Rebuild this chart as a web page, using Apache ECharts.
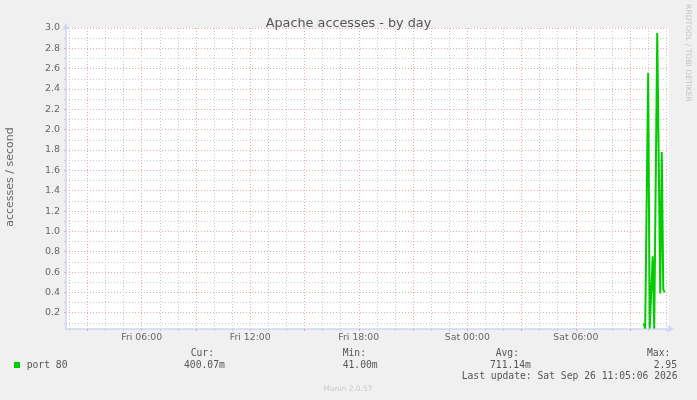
<!DOCTYPE html>
<html>
<head>
<meta charset="utf-8">
<script src="https://cdn.jsdelivr.net/npm/echarts@6/dist/echarts.min.js"></script>
<style>
html,body{margin:0;padding:0;background:#f0f0f0;}
#chart{width:697px;height:400px;}
</style>
</head>
<body>
<div id="chart"></div>
<script>
// ---- data (minutes since Fri 00:00) ----
const rangeStartMin = 109;   // Fri 01:49
const rangeEndMin = 2109;    // Sat 11:09
const pointMinutes = [2025, 2030, 2035, 2040, 2045, 2050, 2055, 2060, 2065, 2070, 2080, 2085, 2090, 2095];
const port80Values = [0.095, 0.045, 0.05, 2.56, 0.045, 0.045, 0.755, 0.045, 0.05, 2.95, 0.39, 1.78, 0.43, 0.40];

const xLabelMinutes = [360, 720, 1080, 1440, 1800];
const xLabelTexts = ['Fri 06:00', 'Fri 12:00', 'Fri 18:00', 'Sat 00:00', 'Sat 06:00'];
const xMajorMinutes = [180, 360, 540, 720, 900, 1080, 1260, 1440, 1620, 1800, 1980];
const xMinorMinutes = [120, 240, 300, 420, 480, 600, 660, 780, 840, 960, 1020, 1140, 1200, 1320, 1380, 1500, 1560, 1680, 1740, 1860, 1920, 2040, 2100];

const yMin = 0.04, yMax = 3.0;
const yMajorTicks = [0.2, 0.4, 0.6, 0.8, 1.0, 1.2, 1.4, 1.6, 1.8, 2.0, 2.2, 2.4, 2.6, 2.8, 3.0];
const yMinorTicks = [0.1, 0.3, 0.5, 0.7, 0.9, 1.1, 1.3, 1.5, 1.7, 1.9, 2.1, 2.3, 2.5, 2.7, 2.9];

const legendName = 'port 80';
const statHeaders = ['Cur:', 'Min:', 'Avg:', 'Max:'];
const statValues = ['400.07m', '41.00m', '711.14m', '2.95'];
const lastUpdate = 'Last update: Sat Sep 26 11:05:06 2026';

const seriesData = pointMinutes.map((m, i) => [m, port80Values[i]]);

const chart = echarts.init(document.getElementById('chart'), null, {renderer: 'canvas'});

const axisColor = '#cfd6f8';
const redGrid = '#f2a6a6';
const grayGrid = '#c8c8c8';
const fontColor = '#666666';
const mono = '"DejaVu Sans Mono", monospace';

const headerX = [190.7, 342.7, 495.7, 647];
const valueX = [184, 342.7, 490, 653.7];

const graphics = [
  {type: 'text', x: 10, y: 177, rotation: Math.PI / 2,
   style: {text: 'accesses / second', fill: fontColor, font: '11px "DejaVu Sans"', align: 'center', verticalAlign: 'middle'}},
  {type: 'text', x: 688, y: 53, rotation: -Math.PI / 2,
   style: {text: 'RRDTOOL / TOBI OETIKER', fill: '#c4c4c4', font: '7.6px "DejaVu Sans"', align: 'center', verticalAlign: 'middle'}},
  {type: 'rect', shape: {x: 14, y: 362, width: 6, height: 6}, style: {fill: '#00cc00'}},
  {type: 'text', x: 26.7, y: 365, style: {text: legendName, fill: '#555', font: '9.7px ' + mono, verticalAlign: 'middle'}},
  {type: 'text', x: 461.7, y: 376, style: {text: lastUpdate, fill: '#555', font: '9.7px ' + mono, verticalAlign: 'middle'}},
  {type: 'text', x: 348, y: 389.5, style: {text: 'Munin 2.0.57', fill: '#c8c8c8', font: '7.5px "DejaVu Sans"', align: 'center', verticalAlign: 'middle'}}
];
statHeaders.forEach((h, i) => {
  graphics.push({type: 'text', x: headerX[i], y: 353, style: {text: h, fill: '#555', font: '9.7px ' + mono, verticalAlign: 'middle'}});
  graphics.push({type: 'text', x: valueX[i], y: 365, style: {text: statValues[i], fill: '#555', font: '9.7px ' + mono, verticalAlign: 'middle'}});
});

const option = {
  backgroundColor: '#f0f0f0',
  animation: false,
  title: {
    text: 'Apache accesses - by day', left: 'center', top: 12,
    textStyle: {color: '#555', fontFamily: 'DejaVu Sans', fontSize: 12.8, fontWeight: 'normal'}
  },
  grid: {left: 66, right: 28, top: 28, bottom: 71, show: true, backgroundColor: '#ffffff', borderWidth: 0, containLabel: false},
  xAxis: [
    {
      type: 'value', min: rangeStartMin, max: rangeEndMin, position: 'bottom', z: 5,
      axisLine: {show: true, lineStyle: {color: axisColor, width: 1.5}, symbol: ['none', 'arrow'], symbolSize: [6, 7], symbolOffset: [0, 5]},
      axisTick: {show: true, length: 2, customValues: xMajorMinutes, lineStyle: {color: redGrid}},
      axisLabel: {show: true, customValues: xLabelMinutes, margin: 4, color: fontColor, fontFamily: 'DejaVu Sans', fontSize: 9.3,
        formatter: v => xLabelTexts[xLabelMinutes.indexOf(v)] || ''},
      splitLine: {show: true, lineStyle: {color: redGrid, type: [1, 2], width: 1}}
    },
    {
      type: 'value', min: rangeStartMin, max: rangeEndMin, position: 'bottom', z: 4,
      axisLine: {show: false},
      axisTick: {show: true, length: 2, customValues: xMinorMinutes, lineStyle: {color: grayGrid}},
      axisLabel: {show: false},
      splitLine: {show: true, lineStyle: {color: grayGrid, type: [1, 2], width: 1}}
    }
  ],
  yAxis: [
    {
      type: 'value', min: yMin, max: yMax, position: 'left', z: 5,
      axisLine: {show: true, lineStyle: {color: axisColor, width: 1.5}, symbol: ['none', 'arrow'], symbolSize: [6, 7], symbolOffset: [0, 5]},
      axisTick: {show: true, length: 2, customValues: yMajorTicks, lineStyle: {color: redGrid}},
      axisLabel: {show: true, customValues: yMajorTicks, margin: 6, color: fontColor, fontFamily: 'DejaVu Sans', fontSize: 9.5,
        formatter: v => v.toFixed(1)},
      splitLine: {show: true, lineStyle: {color: redGrid, type: [1, 2], width: 1}}
    },
    {
      type: 'value', min: yMin, max: yMax, position: 'left', z: 4,
      axisLine: {show: false},
      axisTick: {show: true, length: 2, customValues: yMinorTicks, lineStyle: {color: grayGrid}},
      axisLabel: {show: false},
      splitLine: {show: true, lineStyle: {color: grayGrid, type: [1, 2], width: 1}}
    }
  ],
  series: [{
    type: 'line', name: legendName, xAxisIndex: 0, yAxisIndex: 0,
    data: seriesData, showSymbol: false, symbol: 'none',
    lineStyle: {color: '#00cc00', width: 2}, z: 10
  }],
  graphic: graphics
};
chart.setOption(option);
</script>
</body>
</html>
